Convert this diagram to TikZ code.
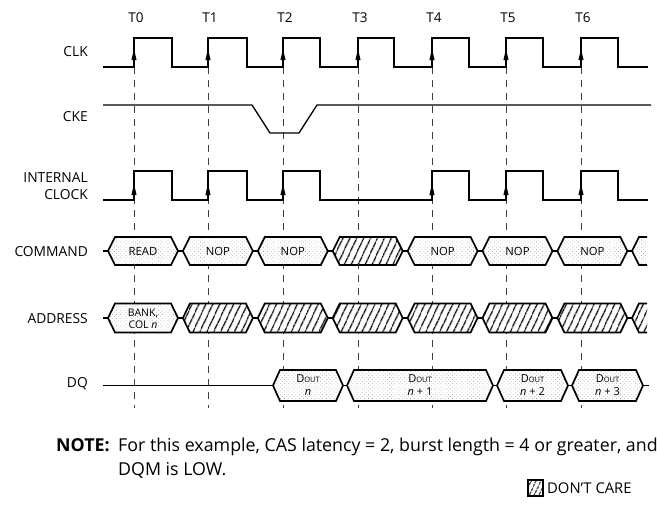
\documentclass[tikz,border=0pt]{standalone}
\usepackage{fontspec}
\setmainfont{Open Sans}
\usetikzlibrary{patterns.meta,arrows.meta}
\newcommand\hexbox[5]{%
  \draw[#5] (#1,#3) -- ({#1+7},{#3-#4}) -- ({#2-7},{#3-#4}) -- (#2,#3) -- ({#2-7},{#3+#4}) -- ({#1+7},{#3+#4}) -- cycle;}
\newcommand\doutt{D{\fontsize{7.5}{8}\selectfont OUT}}
\begin{document}
\begin{tikzpicture}[x=1pt,y=-1pt,
  sig/.style={line width=1.3pt, line join=miter},
  busline/.style={line width=1.7pt, line join=miter},
  dotbox/.style={busline, preaction={fill=white}, pattern={Dots[distance=2.7pt,radius=0.42pt,angle=45]}, pattern color=black!45},
  hatchbox/.style={busline, preaction={fill=white}, pattern={Lines[angle=65,distance=6.4pt,line width=1.4pt]}},
  tick/.style={dash pattern=on 7pt off 6pt, line width=0.6pt, black!75},
  lab/.style={font=\fontsize{13.8}{17}\selectfont, anchor=east, inner sep=0pt, align=right},
  tlab/.style={font=\fontsize{13.5}{14}\selectfont, inner sep=0pt},
  boxtxt/.style={font=\fontsize{11.3}{12}\selectfont, inner sep=0pt, align=center},
  notetxt/.style={font=\fontsize{17.8}{20}\selectfont, anchor=base west, inner sep=0pt},
  upar/.style={fill=black}
]
\useasboundingbox (0,0) rectangle (657,515);

% time markers and dashed guides
\foreach \x [count=\i from 0] in {134,208,283,358,432,506,581} {
  \draw[tick] (\x,67) -- (\x,408);
  \node[tlab] (t\i) at ({\x+2},18) {T\i};
}

% signal labels
\node[lab] (lclk) at (88,52) {CLK};
\node[lab] (lcke) at (88,117) {CKE};
\node[lab] (lint) at (88,186) {INTERNAL\\CLOCK};
\node[lab] (lcmd) at (88,252) {COMMAND};
\node[lab] (ladr) at (88,319) {ADDRESS};
\node[lab] (ldq) at (88,384) {DQ};

% CLK
\draw[sig] (103,67) -| (134,38) -| (172,67) -| (208,38) -| (247,67) -| (283,38) -| (320,67)
  -| (358,38) -| (394,67) -| (432,38) -| (469,67) -| (506,38) -| (543,67) -| (581,38) -| (618,67) -- (648,67);
\foreach \x in {134,208,283,358,432,506,581}
  \fill[upar] (\x,49) -- ({\x-2.6},60) -- ({\x+2.6},60) -- cycle;

% CKE
\draw[sig] (103,105) -- (252,105) -- (270,133) -- (299,133) -- (317,105) -- (651,105);

% INTERNAL CLOCK
\draw[sig] (103,200) -| (134,171) -| (172,200) -| (208,171) -| (247,200) -| (283,171) -| (320,200)
  -| (432,171) -| (469,200) -| (506,171) -| (543,200) -| (581,171) -| (618,200) -- (648,200);
\foreach \x in {134,208,283,432,506,581}
  \fill[upar] (\x,184) -- ({\x-2.6},195) -- ({\x+2.6},195) -- cycle;

% COMMAND bus
\draw[busline] (103,251) -- (108,251);
\foreach \i/\t in {0/READ,1/NOP,2/NOP,3/,4/NOP,5/NOP,6/NOP} {
  \pgfmathsetmacro\xl{108+74.9*\i}
  \pgfmathsetmacro\xr{\xl+70}
  \ifnum\i=3
    \hexbox{\xl}{\xr}{251}{14}{hatchbox}
  \else
    \hexbox{\xl}{\xr}{251}{14}{dotbox}
    \node[boxtxt] (cmd\i) at ({(\xl+\xr)/2},251) {\t};
  \fi
  \draw[busline] (\xr,251) -- ({\xr+4.9},251);
}
\fill[white] (632,251) -- (639,237) -- (647,237) -- (647,265) -- (639,265) -- cycle;
\fill[pattern={Dots[distance=2.7pt,radius=0.42pt,angle=45]}, pattern color=black!45]
  (632,251) -- (639,237) -- (647,237) -- (647,265) -- (639,265) -- cycle;
\draw[busline] (647,237) -- (639,237) -- (632,251) -- (639,265) -- (647,265);

% ADDRESS bus
\draw[busline] (103,318) -- (108,318);
\foreach \i in {0,...,6} {
  \pgfmathsetmacro\xl{108+74.9*\i}
  \pgfmathsetmacro\xr{\xl+70}
  \ifnum\i=0
    \hexbox{\xl}{\xr}{318}{14.5}{dotbox}
    \node[boxtxt, font=\fontsize{10.5}{12}\selectfont] (adr0) at ({(\xl+\xr)/2},318.5) {BANK,\\[0pt]COL \textit{n}};
  \else
    \hexbox{\xl}{\xr}{318}{14.5}{hatchbox}
  \fi
  \draw[busline] (\xr,318) -- ({\xr+4.9},318);
}
\fill[white] (632,318) -- (639,303.5) -- (647,303.5) -- (647,332.5) -- (639,332.5) -- cycle;
\fill[pattern={Lines[angle=65,distance=6.4pt,line width=1.4pt]}]
  (632,318) -- (639,303.5) -- (647,303.5) -- (647,332.5) -- (639,332.5) -- cycle;
\draw[busline] (647,303.5) -- (639,303.5) -- (632,318) -- (639,332.5) -- (647,332.5);

% DQ bus
\draw[busline] (103,385.5) -- (273,385.5);
\hexbox{273}{343}{385.5}{15.5}{dotbox}
\draw[busline] (343,385.5) -- (347,385.5);
\hexbox{347}{493}{385.5}{15.5}{dotbox}
\draw[busline] (493,385.5) -- (497,385.5);
\hexbox{497}{568}{385.5}{15.5}{dotbox}
\draw[busline] (568,385.5) -- (572,385.5);
\hexbox{572}{643}{385.5}{15.5}{dotbox}
\draw[busline] (643,385.5) -- (649,385.5);
\node[boxtxt, font=\fontsize{11}{13}\selectfont] (dq0) at (308,385.5) {\doutt\\[0pt]\textit{n}};
\node[boxtxt, font=\fontsize{11}{13}\selectfont] (dq1) at (420,385.5) {\doutt\\[0pt]\textit{n} + 1};
\node[boxtxt, font=\fontsize{11}{13}\selectfont] (dq2) at (532.5,385.5) {\doutt\\[0pt]\textit{n} + 2};
\node[boxtxt, font=\fontsize{11}{13}\selectfont] (dq3) at (607.5,385.5) {\doutt\\[0pt]\textit{n} + 3};

% note
\node[notetxt, font=\bfseries\fontsize{17.8}{20}\selectfont] (nhd) at (56,451) {NOTE:};
\node[notetxt] (n1) at (118,451) {For this example, CAS latency = 2, burst length = 4 or greater, and};
\node[notetxt] (n2) at (118,475) {DQM is LOW.};

% legend
\draw[line width=1.1pt, preaction={fill=white}, pattern={Lines[angle=65,distance=4pt,line width=1.1pt]}] (528,480) rectangle (543,496);
\node[anchor=west, inner sep=0pt, font=\fontsize{14.8}{16}\selectfont] (dc) at (547,488) {DON'T CARE};
\end{tikzpicture}
\end{document}
